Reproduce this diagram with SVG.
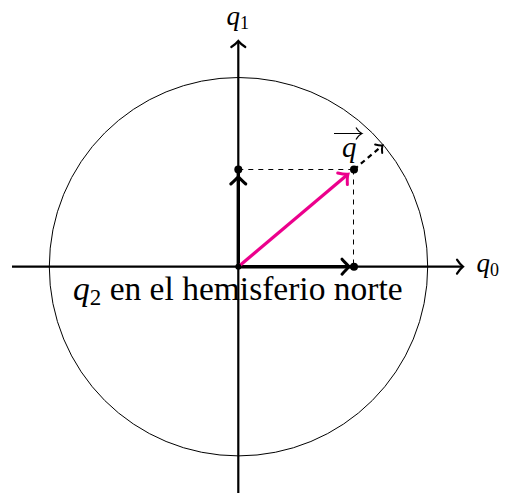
<svg xmlns="http://www.w3.org/2000/svg" width="505" height="495" viewBox="0 0 505 495">
<style>
.lbl{font-family:"Liberation Serif","DejaVu Serif",serif;fill:#000}
.it{font-style:italic}
.axis{stroke:#000;stroke-width:2.2;fill:none}
.vec{stroke:#000;stroke-width:3.4;fill:none}
.dash{stroke:#000;stroke-width:1;stroke-dasharray:5,5;fill:none}
.head{fill:none;stroke:#000;stroke-width:3;stroke-linecap:round}
.dot{fill:#000}
</style>
<defs>
<marker id="ax" markerUnits="userSpaceOnUse" viewBox="-10 -10 12 20" refX="0" refY="0" markerWidth="12" markerHeight="20" orient="auto" overflow="visible">
<path d="M-6,-7 C-3.5,-3 -1,-0.8 0,0 C-1,0.8 -3.5,3 -6,7" fill="none" stroke="#000" stroke-width="2.2" stroke-linecap="round"/>
</marker>
<marker id="vm" markerUnits="userSpaceOnUse" viewBox="-10 -10 12 20" refX="0" refY="0" markerWidth="12" markerHeight="20" orient="auto" overflow="visible">
<path d="M-7,-7.5 C-4,-3.5 -1.2,-0.8 0,0 C-1.2,0.8 -4,3.5 -7,7.5" fill="none" stroke="#EC008C" stroke-width="3" stroke-linecap="round"/>
</marker>
<marker id="sm" markerUnits="userSpaceOnUse" viewBox="-10 -10 12 20" refX="0" refY="0" markerWidth="12" markerHeight="20" orient="auto" overflow="visible">
<path d="M-5,-5.5 C-3,-2.5 -1,-0.6 0,0 C-1,0.6 -3,2.5 -5,5.5" fill="none" stroke="#000" stroke-width="2" stroke-linecap="round"/>
</marker>
</defs>

<g id="circle">
<circle cx="238.5" cy="266.7" r="189.2" fill="none" stroke="#000" stroke-width="1"/>
</g>

<g id="connectors">
<line class="axis" x1="12" y1="266.7" x2="463" y2="266.7" marker-end="url(#ax)"/>
<line class="axis" x1="238.3" y1="493" x2="238.3" y2="41" marker-end="url(#ax)"/>
<line class="dash" x1="238.3" y1="169.5" x2="354" y2="169.5"/>
<line class="dash" x1="353.5" y1="169.5" x2="353.5" y2="266.7"/>
<line class="vec" x1="238.3" y1="266.7" x2="238.3" y2="169.5"/>
<line class="vec" x1="238.3" y1="266.7" x2="354" y2="266.7"/>
<path class="head" d="M230.8,184 C234.8,180.5 237.1,177.8 238.3,177 C239.5,177.8 241.8,180.5 245.8,184"/>
<path class="head" d="M342,259.2 C345.5,263.2 348.2,265.5 349,266.7 C348.2,267.9 345.5,270.2 342,274.2"/>
<line x1="238.3" y1="266.7" x2="347.9" y2="174.3" stroke="#EC008C" stroke-width="3.2" marker-end="url(#vm)"/>
<line x1="354" y1="169.5" x2="382.5" y2="145.5" stroke="#000" stroke-width="2.2" stroke-dasharray="5,4" marker-end="url(#sm)"/>
</g>

<g id="points">
<circle class="dot" cx="238.3" cy="266.7" r="3"/>
<circle class="dot" cx="238.3" cy="169.5" r="4"/>
<circle class="dot" cx="354" cy="169.5" r="4"/>
<circle class="dot" cx="354" cy="266.7" r="4"/>
</g>

<g id="label-q1">
<text class="lbl" x="226.5" y="25" font-size="27"><tspan class="it">q</tspan><tspan font-size="18" dy="4">1</tspan></text>
</g>
<g id="label-q0">
<text class="lbl" x="476.5" y="272" font-size="27"><tspan class="it">q</tspan><tspan font-size="18" dy="4">0</tspan></text>
</g>
<g id="label-qvec">
<text class="lbl it" x="342" y="156.5" font-size="29">q</text>
<path d="M334,133.5 L361,133.5 M356,127.5 C357.5,130 359.5,132.5 362,133.5 C359.5,134.5 357.5,137 356,139.5" fill="none" stroke="#000" stroke-width="1.2"/>
</g>
<g id="label-hemisferio">
<text class="lbl" x="73" y="300" font-size="33.5"><tspan class="it">q</tspan><tspan font-size="23" dy="5">2</tspan><tspan dy="-5"> en el hemisferio norte</tspan></text>
</g>
</svg>
